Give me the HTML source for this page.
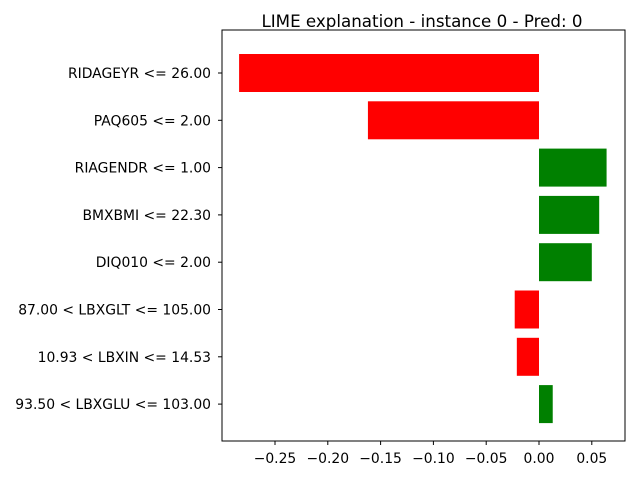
<!DOCTYPE html>
<html><head><meta charset="utf-8"><style>
body{margin:0;background:#fff;}
svg{display:block;font-family:"DejaVu Sans","Liberation Sans",sans-serif;}
</style></head><body>
<svg id="chart" width="640" height="480">
<text x="422" y="27" text-anchor="middle" font-size="16.7">LIME explanation - instance 0 - Pred: 0</text>
<g id="bars"></g><g id="ylabels"></g><g id="xticks"></g>
<rect x="222" y="30" width="403" height="411" fill="none" stroke="#000" stroke-width="1"/>
</svg>
<script>
const categories=["RIDAGEYR <= 26.00","PAQ605 <= 2.00","RIAGENDR <= 1.00","BMXBMI <= 22.30","DIQ010 <= 2.00","87.00 < LBXGLT <= 105.00","10.93 < LBXIN <= 14.53","93.50 < LBXGLU <= 103.00"];
const values=[-0.284,-0.162,0.064,0.057,0.050,-0.023,-0.021,0.013];
const tickValues=[-0.25,-0.20,-0.15,-0.10,-0.05,0.00,0.05];
const tickLabels=["−0.25","−0.20","−0.15","−0.10","−0.05","0.00","0.05"];
const ns="http://www.w3.org/2000/svg";
const x=v=>539+v*1056;
const y=i=>73+i*47.3;
const bh=38;
function mk(t,a){const e=document.createElementNS(ns,t);for(const k in a)e.setAttribute(k,a[k]);return e;}
const bars=document.getElementById('bars'),yl=document.getElementById('ylabels'),xt=document.getElementById('xticks');
values.forEach((v,i)=>{
 const r=mk('rect',{x:Math.min(x(0),x(v)),y:y(i)-bh/2,width:Math.abs(x(v)-x(0)),height:bh,fill:v<0?'#ff0000':'#008000'});
 
 
 bars.appendChild(r);
 const tk=mk('line',{x1:218,x2:222,y1:y(i),y2:y(i),stroke:'#000'});
 
 
 yl.appendChild(tk);
 const t=mk('text',{x:211,y:y(i)+5,'text-anchor':'end','font-size':'13.9'});
 t.textContent=categories[i];
 
 
 yl.appendChild(t);
});
tickValues.forEach((v,i)=>{
 const l=mk('line',{x1:x(v),x2:x(v),y1:441,y2:445,stroke:'#000'});
 
 
 xt.appendChild(l);
 const t=mk('text',{x:x(v),y:463,'text-anchor':'middle','font-size':'13.9'});
 t.textContent=tickLabels[i];
 
 
 xt.appendChild(t);
});
</script>
</body></html>
